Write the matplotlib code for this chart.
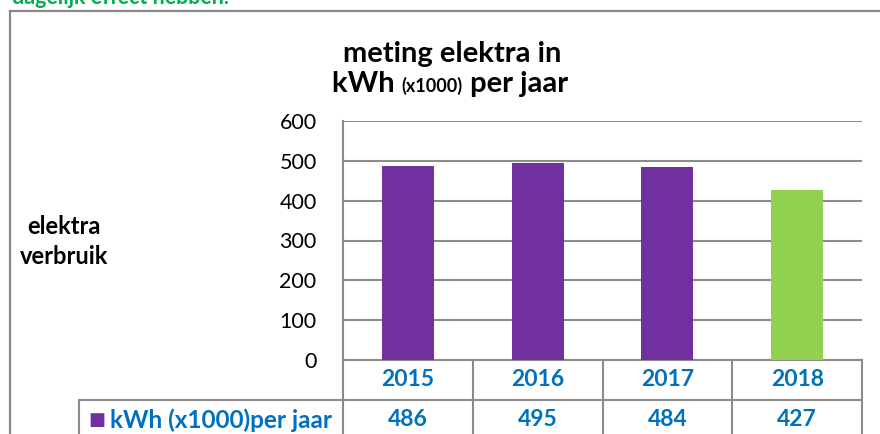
import matplotlib
matplotlib.use("Agg")
import matplotlib.pyplot as plt
from matplotlib.lines import Line2D

# data
years = ["2015", "2016", "2017", "2018"]
kwh = [486, 495, 484, 427]
bar_colors = ["#7030A0", "#7030A0", "#7030A0", "#92D050"]
series_label = "kWh (x1000)per jaar"
y_ticks = [0, 100, 200, 300, 400, 500, 600]

W, H = 880, 434
plt.rcParams["font.family"] = ["Lato", "DejaVu Sans"]

fig = plt.figure(figsize=(W / 100, H / 100), dpi=100)


def fx(px):
    return px / W


def fy(py):
    return 1 - py / H


gray = "#8c8c8c"
blue = "#0070C0"

# plot area in pixels: x 343..862, y 121..360
AX_L, AX_R, AX_T, AX_B = 343, 862, 121, 360
ax = fig.add_axes([fx(AX_L), fy(AX_B), fx(AX_R) - fx(AX_L), fy(AX_T) - fy(AX_B)])
x = list(range(len(years)))
ax.bar(x, kwh, width=0.4, color=bar_colors, zorder=3)
ax.set_xlim(-0.5, len(years) - 0.5)
ax.set_ylim(0, 600)
ax.set_yticks(y_ticks)
ax.set_xticks([])
ax.tick_params(axis="y", length=0, pad=19, labelsize=15.5)
ax.grid(axis="y", color=gray, linewidth=1.5, zorder=0)
for s in ["top", "right"]:
    ax.spines[s].set_visible(False)
for s in ["left", "bottom"]:
    ax.spines[s].set_color(gray)
    ax.spines[s].set_linewidth(1.5)

# data table under the plot, drawn on the x scale of the axes
ax_h = AX_B - AX_T
row = 40 / ax_h
xt = ax.get_xaxis_transform()
leg_left = (79 - AX_L) / (AX_R - AX_L)
line_kw = dict(color=gray, lw=1.5, clip_on=False)
for i in range(len(years) + 1):
    ax.plot([i - 0.5, i - 0.5], [0, -2.5 * row], transform=xt, **line_kw)
ax.plot([-0.5, len(years) - 0.5], [-2 * row, -2 * row], transform=xt, **line_kw)
ax.plot([leg_left, 1], [-row, -row], transform=ax.transAxes, **line_kw)
ax.plot([leg_left, leg_left], [-row, -2.5 * row], transform=ax.transAxes, **line_kw)
for i, (yr, v) in enumerate(zip(years, kwh)):
    ax.text(i, -0.5 * row, yr, transform=xt, ha="center", va="center",
            color=blue, fontsize=16.5, fontweight="bold")
    ax.text(i, -1.5 * row, str(v), transform=xt, ha="center", va="center",
            color=blue, fontsize=16.5, fontweight="bold")
ax.text((110 - AX_L) / (AX_R - AX_L), -1.5 * row, series_label, transform=ax.transAxes,
        ha="left", va="center", color=blue, fontsize=17.5, fontweight="bold")
# legend key square
ax.text((88 - AX_L) / (AX_R - AX_L), -1.5 * row, "\u25a0", transform=ax.transAxes,
        ha="left", va="center", color=bar_colors[0], fontsize=13, family="DejaVu Sans")

# title, second line with small "(x1000)"
fig.text(fx(452), fy(62), "meting elektra in", ha="center", va="baseline",
         fontsize=21, fontweight="bold")
parts = [("kWh ", 21), ("(x1000)", 13), (" per jaar", 21)]
texts = [fig.text(0, fy(92), s, fontsize=fs, fontweight="bold", ha="left", va="baseline")
         for s, fs in parts]
r = fig.canvas.get_renderer()
widths = [t.get_window_extent(r).width for t in texts]
xs = 450 - sum(widths) / 2
for t, w in zip(texts, widths):
    t.set_x(fx(xs))
    xs += w

# y axis title
fig.text(fx(64), fy(234), "elektra", ha="center", va="baseline", fontsize=17, fontweight="bold")
fig.text(fx(64), fy(264), "verbruik", ha="center", va="baseline", fontsize=17, fontweight="bold")

# text above the chart frame, cut off at the top edge just like in the source
fig.text(fx(12), fy(4), "dagelijk effect hebben.", color="#00B050", fontsize=15.5,
         fontweight="bold", ha="left", va="baseline")

# chart frame
fig.add_artist(Line2D([fx(10), fx(10)], [fy(11), 0], color="#888888", lw=1.6, transform=fig.transFigure))
fig.add_artist(Line2D([fx(10), 1], [fy(11), fy(11)], color="#888888", lw=1.6, transform=fig.transFigure))

fig.savefig("out.png", dpi=100)
